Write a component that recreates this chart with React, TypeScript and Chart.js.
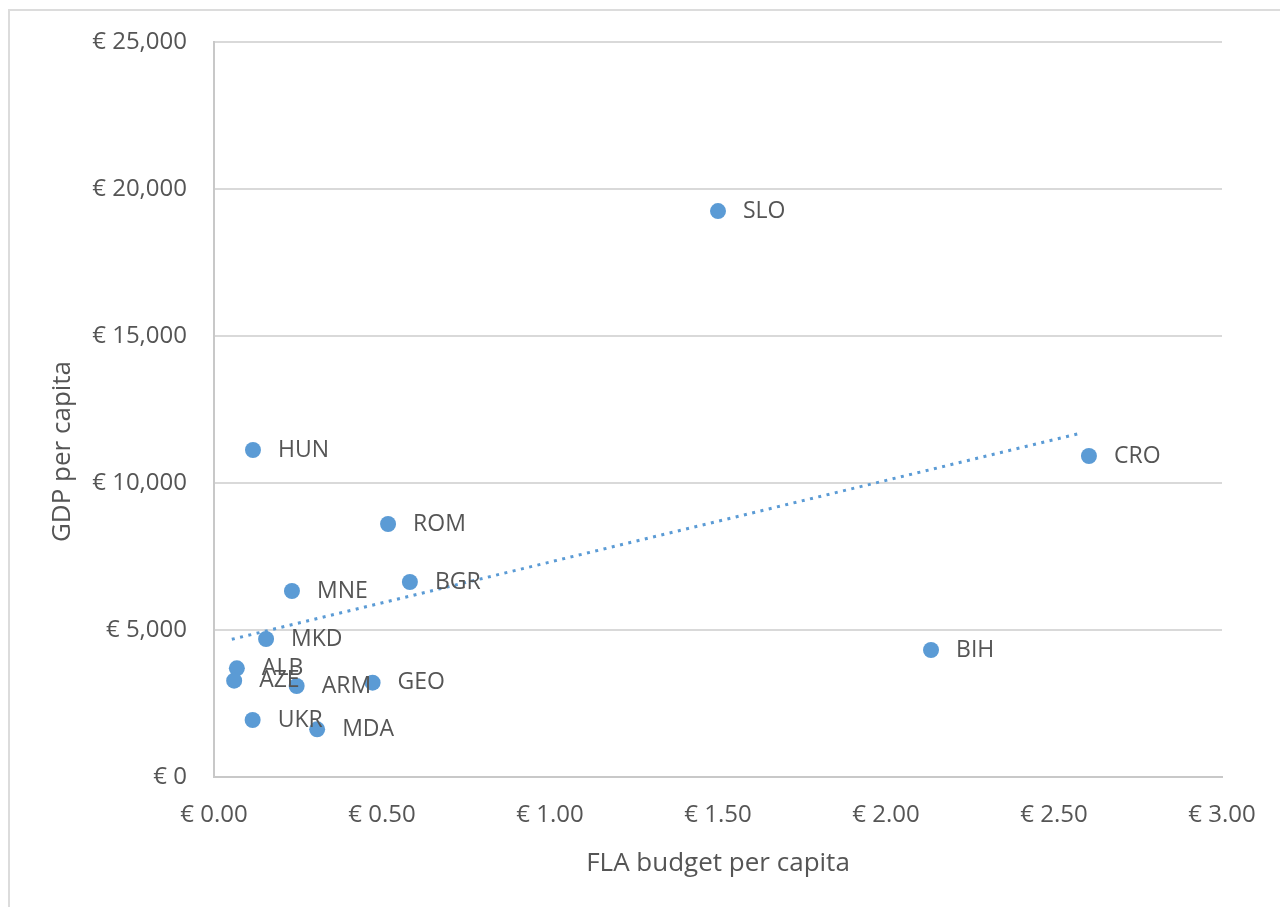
import React, { useEffect, useRef } from "react";
import { Chart, registerables } from "chart.js";

Chart.register(...registerables);

const countries = ["SLO", "HUN", "CRO", "ROM", "BGR", "MNE", "MKD", "BIH", "ALB", "AZE", "ARM", "GEO", "UKR", "MDA"];
const flaBudgetPerCapita = [1.5, 0.116, 2.604, 0.518, 0.583, 0.232, 0.155, 2.134, 0.068, 0.06, 0.246, 0.472, 0.115, 0.307];
const gdpPerCapita = [19250, 11122, 10918, 8605, 6632, 6326, 4694, 4319, 3697, 3275, 3095, 3208, 1939, 1622];

// linear trendline endpoints
const trendX = [0.053, 2.577];
const trendY = [4683, 11689];

const xTitle = "FLA budget per capita";
const yTitle = "GDP per capita";

const FONT = "'Open Sans', 'Noto Sans', sans-serif";
const TEXT = "#555555";
const BLUE = "#5B9BD5";

const labelPlugin = {
  id: "pointLabels",
  afterDatasetsDraw(chart: any) {
    const meta = chart.getDatasetMeta(0);
    const ctx = chart.ctx;
    ctx.save();
    ctx.font = `23px ${FONT}`;
    ctx.fillStyle = TEXT;
    ctx.textAlign = "left";
    ctx.textBaseline = "middle";
    meta.data.forEach((p: any, i: number) => {
      ctx.fillText(countries[i], p.x + 25, p.y);
    });
    ctx.restore();
  },
};

const yTitlePlugin = {
  id: "yTitle",
  afterDraw(chart: any) {
    const ctx = chart.ctx;
    const area = chart.chartArea;
    ctx.save();
    ctx.font = `26px ${FONT}`;
    ctx.fillStyle = TEXT;
    ctx.textAlign = "center";
    ctx.textBaseline = "middle";
    ctx.translate(63, (area.top + area.bottom) / 2 + 42);
    ctx.rotate(-Math.PI / 2);
    ctx.fillText(yTitle, 0, 0);
    ctx.restore();
  },
};

export default function App() {
  const ref = useRef<HTMLCanvasElement | null>(null);

  useEffect(() => {
    if (!ref.current) return;
    const chart = new Chart(ref.current, {
      type: "scatter",
      data: {
        datasets: [
          {
            label: yTitle,
            data: flaBudgetPerCapita.map((x, i) => ({ x, y: gdpPerCapita[i] })),
            backgroundColor: BLUE,
            borderWidth: 0,
            pointRadius: 8,
            pointHoverRadius: 8,
            order: 2,
          },
          {
            type: "line",
            label: "Linear trend",
            data: trendX.map((x, i) => ({ x, y: trendY[i] })),
            borderColor: BLUE,
            borderWidth: 3,
            borderDash: [3, 5.5],
            pointRadius: 0,
            showLine: true,
            fill: false,
            order: 1,
          } as any,
        ],
      },
      options: {
        responsive: false,
        animation: false,
        events: [],
        layout: { padding: { top: 42, right: 58, left: 0, bottom: 0 } },
        plugins: { legend: { display: false }, tooltip: { enabled: false } },
        scales: {
          x: {
            type: "linear",
            min: 0,
            max: 3,
            ticks: {
              stepSize: 0.5,
              padding: 24,
              color: TEXT,
              font: { family: FONT, size: 24 },
              callback: (v: any) => "€ " + Number(v).toFixed(2),
            },
            grid: { color: "rgba(0,0,0,0)", drawTicks: false },
            border: { display: true, color: "#c8c8c8", width: 2 },
            title: {
              display: true,
              text: xTitle,
              color: TEXT,
              font: { family: FONT, size: 26 },
              padding: { top: 0, bottom: 28 },
            },
            afterFit: (s: any) => {
              s.height = 130;
            },
          },
          y: {
            type: "linear",
            min: 0,
            max: 25000,
            ticks: {
              stepSize: 5000,
              padding: 27,
              color: TEXT,
              font: { family: FONT, size: 24 },
              callback: (v: any) => "€ " + Number(v).toLocaleString("en-US"),
            },
            grid: { color: "#d9d9d9", lineWidth: 2, drawTicks: false },
            border: { display: true, color: "#c8c8c8", width: 2 },
            title: { display: false, text: yTitle },
            afterFit: (s: any) => {
              s.width = 214;
            },
          },
        },
      },
      plugins: [labelPlugin, yTitlePlugin],
    });
    return () => chart.destroy();
  }, []);

  return (
    <div style={{ position: "fixed", left: 0, top: 0, width: 1280, height: 907, overflow: "hidden", background: "#fff" }}>
      <div
        style={{
          position: "absolute",
          left: 8,
          top: 9,
          width: 1300,
          height: 920,
          borderLeft: "2px solid #dcdcdc",
          borderTop: "2px solid #dcdcdc",
        }}
      />
      <canvas ref={ref} width={1280} height={907} style={{ position: "absolute", left: 0, top: 0, width: 1280, height: 907 }} />
    </div>
  );
}
